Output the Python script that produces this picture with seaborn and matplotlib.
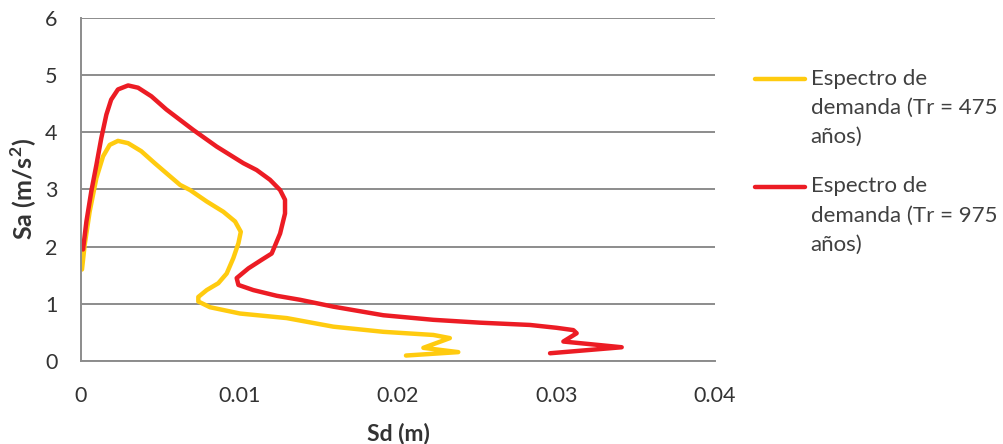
import pandas as pd
import numpy as np
import matplotlib
matplotlib.use("Agg")
import matplotlib.pyplot as plt
from matplotlib.lines import Line2D
from matplotlib.legend_handler import HandlerLine2D
import seaborn as sns

# Espectro de demanda Tr = 475 años (Sd en m, Sa en m/s2)
sd_475 = [0.00006, 0.00023, 0.00055, 0.00097, 0.00139, 0.00181, 0.00233, 0.00297,
          0.0038, 0.00465, 0.00549, 0.00625, 0.00688, 0.00793, 0.00898, 0.00972,
          0.01008, 0.00993, 0.00961, 0.00919, 0.00866, 0.00793, 0.0074, 0.0074,
          0.00814, 0.01003, 0.01298, 0.01592, 0.01907, 0.02223, 0.02327, 0.0216,
          0.0238, 0.0205]
sa_475 = [1.60, 2.03, 2.62, 3.20, 3.58, 3.78, 3.85, 3.81,
          3.67, 3.46, 3.26, 3.08, 2.99, 2.79, 2.61, 2.44,
          2.26, 2.06, 1.80, 1.53, 1.36, 1.24, 1.12, 1.04,
          0.94, 0.83, 0.75, 0.60, 0.51, 0.455, 0.40, 0.23,
          0.155, 0.095]

# Espectro de demanda Tr = 975 años
sd_975 = [0.000126, 0.00034, 0.00065, 0.00097, 0.00128, 0.0016, 0.0019, 0.00233,
          0.00297, 0.0036, 0.00444, 0.00538, 0.00709, 0.00856, 0.01024, 0.01108,
          0.01192, 0.01256, 0.01287, 0.01287, 0.01256, 0.01203, 0.0114, 0.01056,
          0.00982, 0.00993, 0.01087, 0.01235, 0.01382, 0.01592, 0.01907, 0.02222,
          0.02517, 0.02833, 0.03001, 0.03106, 0.03127, 0.03043, 0.03411, 0.02959]
sa_975 = [1.95, 2.44, 2.97, 3.43, 3.90, 4.31, 4.57, 4.75,
          4.82, 4.78, 4.63, 4.40, 4.04, 3.75, 3.46, 3.34,
          3.17, 2.99, 2.82, 2.58, 2.23, 1.88, 1.77, 1.62,
          1.45, 1.33, 1.24, 1.14, 1.07, 0.95, 0.80, 0.72,
          0.67, 0.63, 0.58, 0.54, 0.485, 0.34, 0.24, 0.135]

lab_475 = "Espectro de\ndemanda (Tr = 475\naños)"
lab_975 = "Espectro de\ndemanda (Tr = 975\naños)"
colores = {lab_475: "#FFCB0F", lab_975: "#EC1C24"}

x_ticks = [0, 0.01, 0.02, 0.03, 0.04]
x_ticklabels = ["0", "0.01", "0.02", "0.03", "0.04"]
y_ticks = [0, 1, 2, 3, 4, 5, 6]

df = pd.concat([
    pd.DataFrame({"Sd": sd_475, "Sa": sa_475, "serie": lab_475}),
    pd.DataFrame({"Sd": sd_975, "Sa": sa_975, "serie": lab_975}),
], ignore_index=True)

sns.set_style("white")
plt.rcParams["font.family"] = ["Lato", "DejaVu Sans"]
plt.rcParams["mathtext.fontset"] = "custom"
plt.rcParams["mathtext.rm"] = "Lato"
plt.rcParams["mathtext.bf"] = "Lato:bold"


# legend line drawn next to the first text line, like Excel does
class HandlerTop(HandlerLine2D):
    def create_artists(self, legend, orig_handle, xdescent, ydescent,
                       width, height, fontsize, trans):
        arts = super().create_artists(legend, orig_handle, xdescent, ydescent,
                                      width, height, fontsize, trans)
        for a in arts:
            a.set_ydata(np.asarray(a.get_ydata()) + fontsize * 1.3)
        return arts


fig = plt.figure(figsize=(10.04, 4.44), dpi=100)
ax = fig.add_axes([0.0807, 0.187, 0.6315, 0.7725])

sns.lineplot(data=df, x="Sd", y="Sa", hue="serie", estimator=None, sort=False,
             palette=colores, linewidth=3.2, ax=ax)
for l in ax.lines:
    l.set_solid_joinstyle("round")
    l.set_solid_capstyle("round")

ax.set_xlim(0, 0.04)
ax.set_ylim(0, 6)
ax.set_xticks(x_ticks)
ax.set_xticklabels(x_ticklabels)
ax.set_yticks(y_ticks)
ax.grid(axis="y", color="#8C8C8C", linewidth=1.4)
ax.grid(axis="x", visible=False)
for s in ["top", "right"]:
    ax.spines[s].set_visible(False)
for s in ["left", "bottom"]:
    ax.spines[s].set_color("#8C8C8C")
    ax.spines[s].set_linewidth(1.4)
ax.tick_params(axis="both", length=0, labelsize=15.5, colors="#333333")
ax.tick_params(axis="x", pad=18)
ax.tick_params(axis="y", pad=17)

ax.set_xlabel("Sd (m)", fontsize=16.5, fontweight="bold", color="#333333", labelpad=12)
ax.set_ylabel(r"Sa (m/s$^\mathbf{2}$)", fontsize=18, fontweight="bold", color="#333333",
              labelpad=4)

handles = [Line2D([], [], color=colores[k], linewidth=3.2, solid_capstyle="round")
           for k in [lab_475, lab_975]]
leg = ax.legend(handles, [lab_475, lab_975], loc="upper left",
                bbox_to_anchor=(0.752, 0.845), bbox_transform=fig.transFigure,
                frameon=False, fontsize=16, handlelength=2.25, handletextpad=0.25,
                labelspacing=1.32, borderpad=0, borderaxespad=0,
                handler_map={Line2D: HandlerTop()})
for t in leg.get_texts():
    t.set_color("#404040")
    t.set_linespacing(1.57)

fig.savefig("out.png", dpi=100)
